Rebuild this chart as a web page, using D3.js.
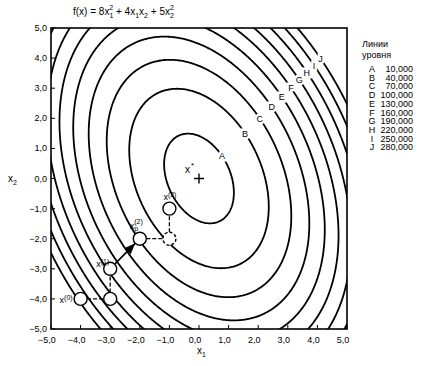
<!DOCTYPE html>
<html><head><meta charset="utf-8">
<script src="https://cdn.jsdelivr.net/npm/d3@7"></script>
<style>body{margin:0;background:#fff}svg{display:block}text{font-family:"Liberation Sans",Arial,sans-serif;fill:#000}</style>
</head><body>
<svg id="c" width="421" height="366"></svg>
<script>
// ---- data ----
const levels = [10, 40, 70, 100, 130, 160, 190, 220, 250, 280];
const levelNames = ["A","B","C","D","E","F","G","H","I","J"];
const levelLabels = ["10,000","40,000","70,000","100,000","130,000","160,000","190,000","220,000","250,000","280,000"];
const xTicks = [-5,-4,-3,-2,-1,0,1,2,3,4,5];
const yTicks = [-5,-4,-3,-2,-1,0,1,2,3,4,5];
const pathX1 = [-4, -3, -3, -2, -1, -1];
const pathX2 = [-4, -4, -3, -2, -2, -1];
const pathDashedPoint = [false, false, false, false, true, false];
const segFrom = [0, 1, 2, 3, 4];
const segTo   = [1, 2, 3, 4, 5];
const segStyle = ["dash","dash","arrow","dash","dash"];
const f = (a, b) => 8*a*a + 4*a*b + 5*b*b;

const svg = d3.select("#c");
const x = d3.scaleLinear([-5,5],[51,347]);
const y = d3.scaleLinear([-5,5],[329,28]);
const fmt = v => (v<0?"\u2212":"") + Math.abs(v).toFixed(1).replace(".", ",");

svg.append("defs").append("clipPath").attr("id","clip")
  .append("rect").attr("x",x(-5)).attr("y",y(5)).attr("width",x(5)-x(-5)).attr("height",y(-5)-y(5));
svg.select("defs").append("marker").attr("id","arr").attr("viewBox","0 0 10 10")
  .attr("refX",10).attr("refY",5).attr("markerWidth",7).attr("markerHeight",7).attr("orient","auto")
  .append("path").attr("d","M0,1 L10,5 L0,9 Z").attr("fill","#000");

// ---- contours ----
const n = 241, lo = -5.6, hi = 5.6, step = (hi-lo)/(n-1);
const vals = new Float64Array(n*n);
for (let j=0;j<n;j++) for (let i=0;i<n;i++) vals[j*n+i] = f(lo+i*step, hi-j*step);
const cont = d3.contours().size([n,n]).thresholds(levels)(vals);
const proj = d3.geoTransform({point(px,py){ this.stream.point(x(lo+(px-0.5)*step), y(hi-(py-0.5)*step)); }});
const gpath = d3.geoPath(proj);
svg.append("g").attr("clip-path","url(#clip)").selectAll("path").data(cont).join("path")
  .attr("d", gpath).attr("fill","none").attr("stroke","#000").attr("stroke-width",1.8);

// contour labels along a ray
const dx = 1, dy = 0.97, fd = f(dx,dy);
svg.append("g").selectAll("text").data(levels).join("text")
  .attr("x",(c)=>x(dx*Math.sqrt(c/fd))).attr("y",(c)=>y(dy*Math.sqrt(c/fd))+3.5)
  .attr("text-anchor","middle").attr("font-size",9)
  .attr("stroke","#fff").attr("stroke-width",5).attr("paint-order","stroke")
  .text((c,i)=>levelNames[i]);

// ---- frame & axes ----
svg.append("rect").attr("x",x(-5)).attr("y",y(5)).attr("width",x(5)-x(-5)).attr("height",y(-5)-y(5))
  .attr("fill","none").attr("stroke","#000").attr("stroke-width",1.6);
const gx = svg.append("g");
gx.selectAll("line").data(xTicks).join("line")
  .attr("x1",d=>x(d)).attr("x2",d=>x(d)).attr("y1",y(-5)).attr("y2",y(-5)-4).attr("stroke","#000");
gx.selectAll("text").data(xTicks).join("text")
  .attr("x",d=>x(d)-4).attr("y",y(-5)+14).attr("text-anchor","middle").attr("font-size",9).text(fmt);
const gy = svg.append("g");
gy.selectAll("line").data(yTicks).join("line")
  .attr("x1",x(-5)).attr("x2",x(-5)+4).attr("y1",d=>y(d)).attr("y2",d=>y(d)).attr("stroke","#000");
gy.selectAll("text").data(yTicks).join("text")
  .attr("x",x(-5)-4).attr("y",d=>y(d)+3).attr("text-anchor","end").attr("font-size",9).text(fmt);

// axis titles
const t1 = svg.append("text").attr("x",x(0)-2).attr("y",354).attr("font-size",10).text("x");
t1.append("tspan").attr("dy",3).attr("font-size",7).text("1");
const t2 = svg.append("text").attr("x",8).attr("y",182).attr("font-size",10).text("x");
t2.append("tspan").attr("dy",3).attr("font-size",7).text("2");

// title: explicit tspans with dy bookkeeping
const tt = svg.append("text").attr("x",73).attr("y",15).attr("font-size",10);
const parts = [
  ["f(x) = 8x",0,0,10],["1",3,0,7],["2",-8,-4,7],
  [" + 4x",5,0,10],["1",3,0,7],["x",-3,0,10],["2",3,0,7],
  [" + 5x",-3,0,10],["2",3,0,7],["2",-8,-4,7]
];
parts.forEach(([s,ddy,ddx,fs])=>tt.append("tspan").attr("dy",ddy).attr("dx",ddx).attr("font-size",fs).text(s));

// legend
svg.append("text").attr("x",362).attr("y",47).attr("font-size",9).text("Линии");
svg.append("text").attr("x",362).attr("y",58).attr("font-size",9).text("уровня");
const lg = svg.append("g").selectAll("g").data(levels).join("g")
  .attr("transform",(d,i)=>`translate(0,${72+i*8.7})`);
lg.append("text").attr("x",372).attr("text-anchor","middle").attr("font-size",9).text((d,i)=>levelNames[i]);
lg.append("text").attr("x",413).attr("text-anchor","end").attr("font-size",9).text((d,i)=>levelLabels[i]);

// ---- search path ----
const R = 6.5;
const gp = svg.append("g");
segFrom.forEach((a,k)=>{
  const b = segTo[k];
  const x0 = x(pathX1[a]), y0 = y(pathX2[a]), x1 = x(pathX1[b]), y1 = y(pathX2[b]);
  const L = Math.hypot(x1-x0,y1-y0), ux=(x1-x0)/L, uy=(y1-y0)/L;
  const ln = gp.append("line").attr("x1",x0+ux*R).attr("y1",y0+uy*R).attr("x2",x1-ux*R).attr("y2",y1-uy*R)
    .attr("stroke","#000").attr("stroke-width",1.3);
  if (segStyle[k]==="dash") ln.attr("stroke-dasharray","4,2");
  else ln.attr("marker-end","url(#arr)").attr("stroke-width",1.6);
});
gp.selectAll("circle").data(pathX1).join("circle")
  .attr("cx",d=>x(d)).attr("cy",(d,i)=>y(pathX2[i])).attr("r",R)
  .attr("fill","#fff").attr("stroke","#000").attr("stroke-width",1.4)
  .attr("stroke-dasharray",(d,i)=>pathDashedPoint[i]?"3,2":null);
function ptLabel(xx,yy,sup,sub){
  const t = svg.append("text").attr("x",xx).attr("y",yy).attr("font-size",9).text("x");
  if (sub) t.append("tspan").attr("dy",2).attr("font-size",7).text(sub);
  t.append("tspan").attr("dx",sub?-4:0).attr("dy",sub?-7:-3).attr("font-size",7).text(sup);
}
ptLabel(x(-4)-21, y(-4)+4, "(0)");
ptLabel(x(-3)-14, y(-3)-2, "(1)");
ptLabel(x(-2)-10, y(-2)-10, "(2)", "p");
ptLabel(x(-1)-6, y(-1)-9, "(2)");
// optimum
svg.append("text").attr("x",x(0)-14).attr("y",y(0)-6).attr("font-size",10).text("x");
svg.append("text").attr("x",x(0)-8).attr("y",y(0)-11).attr("font-size",8).text("*");
svg.append("path").attr("d",`M${x(0)-5},${y(0)}H${x(0)+5}M${x(0)},${y(0)-5}V${y(0)+5}`)
  .attr("stroke","#000").attr("stroke-width",1.4);
</script>
</body></html>
